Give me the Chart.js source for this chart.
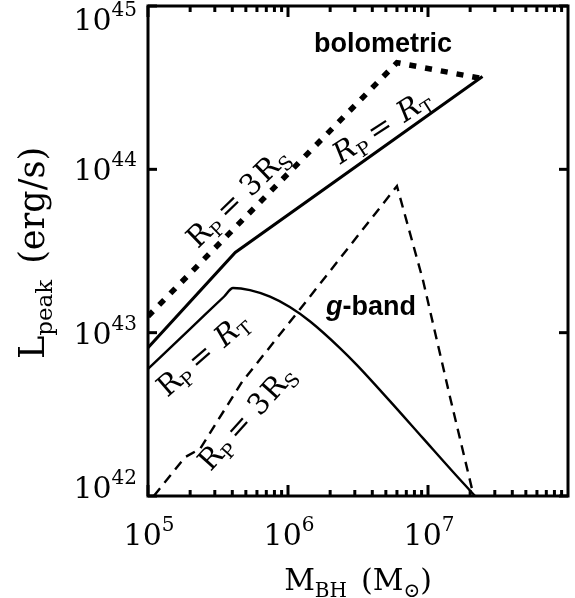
<!DOCTYPE html>
<html>
<head>
<meta charset="utf-8">
<script src="https://cdn.jsdelivr.net/npm/chart.js@4.4.0/dist/chart.umd.min.js"></script>
<style>
  html, body { margin: 0; padding: 0; background: #fff; }
</style>
</head>
<body>
<canvas id="lpeakChart" width="575" height="598"></canvas>
<script>
// peak luminosity against black hole mass, log-log
const boloTidalMass = [1e5, 4.2e5, 2.45e7];
const boloTidalLum = [8.1e42, 3.1e43, 3.7e44];

const boloSchwMass = [1e5, 6.0e6, 2.4e7];
const boloSchwLum = [1.26e43, 4.5e44, 3.6e44];

const gTidalMass = [1e5, 2e5, 3.5e5, 4.05e5, 5.35e5, 7.44e5, 1.03e6, 1.44e6, 2.35e6, 3.11e6, 5.35e6, 9.2e6, 1.61e7, 2.17e7];
const gTidalLum = [6.0e42, 1.056e43, 1.665e43, 1.876e43, 1.82e43, 1.66e43, 1.435e43, 1.17e43, 8.05e42, 6.33e42, 3.81e42, 2.26e42, 1.32e42, 1.0e42];

const gSchwMass = [1.1e5, 1.84e5, 2.35e5, 4.7e5, 1.16e6, 6.0e6, 9.2e6, 1.44e7, 2.12e7];
const gSchwLum = [1.0e42, 1.73e42, 1.94e42, 5.0e42, 1.32e43, 7.9e43, 2.1e43, 4.0e42, 1.0e42];

const xTickExps = [5, 6, 7];
const yTickExps = [42, 43, 44, 45];

const serif = '"DejaVu Serif", "Liberation Serif", serif';
const sans = '"Liberation Sans", Arial, sans-serif';

function toPoints(xs, ys) {
    return xs.map(function (m, i) { return { x: m, y: ys[i] }; });
}

// text made of runs: [text, font, dy, extraAdvance]
function runsWidth(ctx, runs) {
    var w = 0;
    runs.forEach(function (r) { ctx.font = r[1]; w += ctx.measureText(r[0]).width + (r[3] || 0); });
    return w;
}

function drawRuns(ctx, runs, x, y, align) {
    var w = runsWidth(ctx, runs);
    var cx = align === 'center' ? x - w / 2 : (align === 'right' ? x - w : x);
    runs.forEach(function (r) {
        ctx.font = r[1];
        ctx.fillText(r[0], cx, y + (r[2] || 0));
        cx += ctx.measureText(r[0]).width + (r[3] || 0);
    });
}

function seg(ctx, x1, y1, x2, y2) {
    ctx.beginPath();
    ctx.moveTo(x1, y1);
    ctx.lineTo(x2, y2);
    ctx.stroke();
}

const big = '30px ' + serif;
const small = '20px ' + serif;
const yBig = '35px ' + serif;
const ySmall = '23px ' + serif;
const lblFont = '29px ' + serif;
const lblItal = 'italic 29px ' + serif;
const lblSub = '19px ' + serif;

// labels along the curves, anchored at their centre
const curveLabels = [
    { at: [4.4e5, 6.7e43], angle: -44, runs: [['R', lblFont], ['P', lblSub, 6, 6], ['= 3', lblFont, 0, 2], ['R', lblFont], ['S', lblSub, 6]] },
    { at: [4.7e6, 1.82e44], angle: -33, runs: [['R', lblItal], ['P', lblSub, 6, 6], ['= ', lblFont, 0, 2], ['R', lblItal], ['T', lblSub, 6]] },
    { at: [2.47e5, 7.3e42], angle: -41, runs: [['R', lblFont], ['P', lblSub, 6, 6], ['= ', lblFont, 0, 2], ['R', lblItal], ['T', lblSub, 6]] },
    { at: [5.1e5, 3.0e42], angle: -48, runs: [['R', lblFont], ['P', lblSub, 6, 6], ['= 3', lblFont, 0, 2], ['R', lblFont], ['S', lblSub, 6]] }
];

const bandLabels = [
    { at: [4.77e6, 6.0e44], runs: [['bolometric', 'bold 27px ' + sans]] },
    { at: [3.92e6, 1.48e43], runs: [['g', 'italic bold 27px ' + sans], ['-band', 'bold 27px ' + sans]] }
];

const frameAndText = {
    id: 'frameAndText',
    afterDatasetsDraw: function (chart) {
        var ctx = chart.ctx, a = chart.chartArea, xs = chart.scales.x, ys = chart.scales.y;
        ctx.save();
        ctx.strokeStyle = '#000';
        ctx.fillStyle = '#000';
        ctx.lineCap = 'butt';
        ctx.lineWidth = 3;

        // y ticks, inward on both sides
        yTickExps.forEach(function (e) {
            var py = ys.getPixelForValue(Math.pow(10, e));
            seg(ctx, a.left, py, a.left + 9, py);
            seg(ctx, a.right, py, a.right - 9, py);
        });
        // x ticks, major and minor, top and bottom
        for (var e = 5; e < 8; e++) {
            for (var m = 1; m < 10; m++) {
                var px = xs.getPixelForValue(m * Math.pow(10, e));
                var len = m === 1 ? 11 : 6;
                seg(ctx, px, a.bottom, px, a.bottom - len);
                seg(ctx, px, a.top, px, a.top + len);
            }
        }
        ctx.strokeRect(a.left, a.top, a.right - a.left, a.bottom - a.top);

        // tick labels
        ctx.textBaseline = 'alphabetic';
        yTickExps.forEach(function (e) {
            var py = ys.getPixelForValue(Math.pow(10, e));
            var mid = Math.min(Math.max(py, 19), 487);
            drawRuns(ctx, [['10', big], [String(e), small, -14]], a.left - 11, mid + 11, 'right');
        });
        xTickExps.forEach(function (e) {
            var px = xs.getPixelForValue(Math.pow(10, e));
            drawRuns(ctx, [['10', big], [String(e), small, -14]], px + 1, a.bottom + 49, 'center');
        });

        // axis titles
        drawRuns(ctx, [['M', big], ['BH', small, 7, 14], ['(M', big], ['\u2299', small, 7], [')', big]],
            (a.left + a.right) / 2, a.bottom + 94, 'center');
        ctx.save();
        ctx.translate(44, (a.top + a.bottom) / 2 + 2);
        ctx.rotate(-Math.PI / 2);
        drawRuns(ctx, [['L', yBig], ['peak', ySmall, 8, 16], ['(erg/s)', yBig]], 0, 0, 'center');
        ctx.restore();

        // curve labels
        curveLabels.forEach(function (l) {
            ctx.save();
            ctx.translate(xs.getPixelForValue(l.at[0]), ys.getPixelForValue(l.at[1]));
            ctx.rotate(l.angle * Math.PI / 180);
            drawRuns(ctx, l.runs, 0, 9, 'center');
            ctx.restore();
        });
        bandLabels.forEach(function (l) {
            drawRuns(ctx, l.runs, xs.getPixelForValue(l.at[0]), ys.getPixelForValue(l.at[1]) + 10, 'center');
        });
        ctx.restore();
    }
};

const ctx = document.getElementById('lpeakChart').getContext('2d');
const lpeakChart = new Chart(ctx, {
    type: 'line',
    data: {
        datasets: [
            {
                label: 'bolometric, Rp = RT',
                data: toPoints(boloTidalMass, boloTidalLum),
                borderColor: '#000', borderWidth: 3, tension: 0
            },
            {
                label: 'bolometric, Rp = 3RS',
                data: toPoints(boloSchwMass, boloSchwLum),
                borderColor: '#000', borderWidth: 5.5, borderDash: [7, 9], tension: 0
            },
            {
                label: 'g-band, Rp = RT',
                data: toPoints(gTidalMass, gTidalLum),
                borderColor: '#000', borderWidth: 2.4, cubicInterpolationMode: 'monotone'
            },
            {
                label: 'g-band, Rp = 3RS',
                data: toPoints(gSchwMass, gSchwLum),
                borderColor: '#000', borderWidth: 2.4, borderDash: [10, 7], tension: 0
            }
        ]
    },
    options: {
        responsive: false,
        animation: false,
        devicePixelRatio: 1,
        layout: { padding: { left: 148, right: 7, top: 6, bottom: 102 } },
        elements: { point: { radius: 0, hoverRadius: 0 } },
        scales: {
            x: { type: 'logarithmic', min: 1e5, max: 1e8, display: false },
            y: { type: 'logarithmic', min: 1e42, max: 1e45, display: false }
        },
        plugins: {
            legend: { display: false },
            tooltip: { enabled: false }
        }
    },
    plugins: [frameAndText]
});
</script>
</body>
</html>
